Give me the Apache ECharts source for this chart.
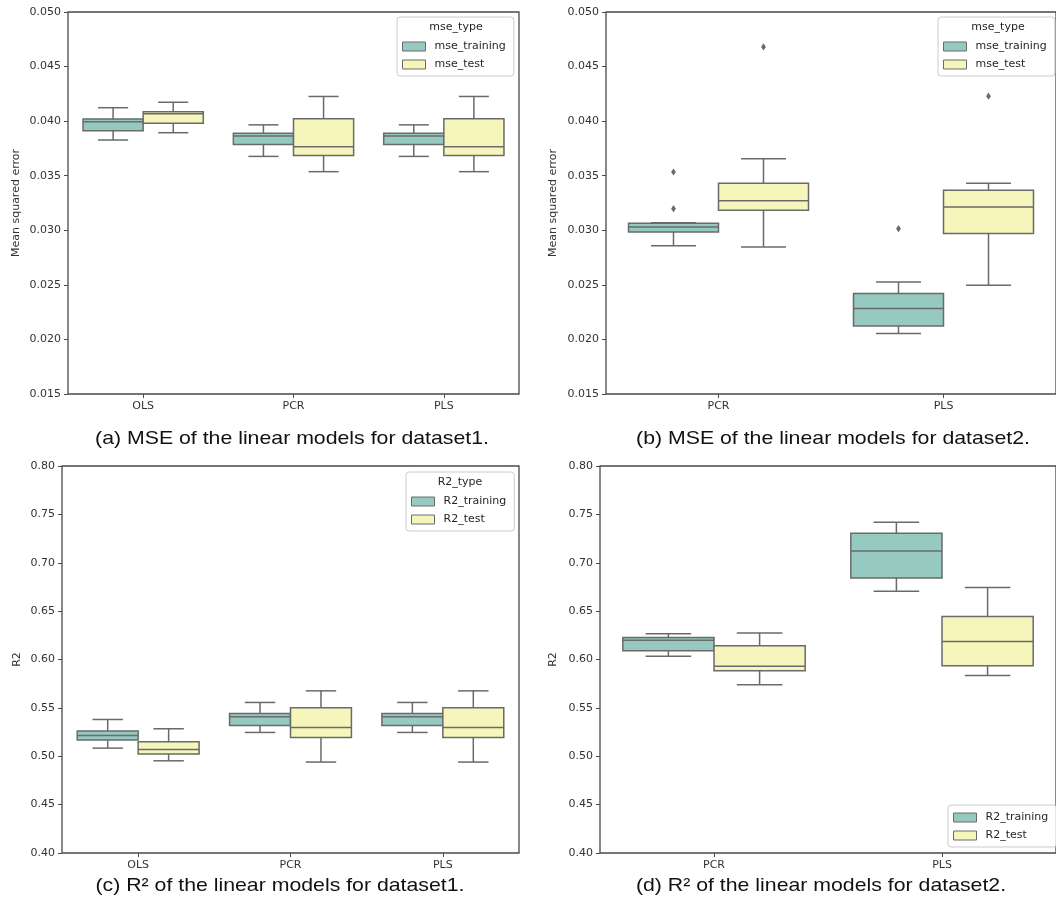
<!DOCTYPE html>
<html>
<head>
<meta charset="utf-8">
<title>MSE and R2 of the linear models</title>
<script src="https://cdn.jsdelivr.net/npm/echarts@6/dist/echarts.min.js"></script>
<style>
html, body { margin: 0; padding: 0; background: #fff; }
#main { width: 1056px; height: 909px; }
</style>
</head>
<body>
<div id="main"></div>
<script>
// box stats: [low whisker, q1, median, q3, high whisker]
var cats1 = ['OLS', 'PCR', 'PLS'];
var cats2 = ['PCR', 'PLS'];

var mse1Train = [[0.03827, 0.03912, 0.03995, 0.04020, 0.04123], [0.03677, 0.03787, 0.03863, 0.03890, 0.03966], [0.03677, 0.03787, 0.03863, 0.03890, 0.03966]];
var mse1Test = [[0.03894, 0.03980, 0.04068, 0.04087, 0.04173], [0.03537, 0.03686, 0.03765, 0.04021, 0.04226], [0.03537, 0.03686, 0.03765, 0.04021, 0.04226]];

var mse2Train = [[0.02859, 0.02984, 0.03030, 0.03065, 0.03068], [0.02055, 0.02122, 0.02284, 0.02421, 0.02527]];
var mse2Test = [[0.02848, 0.03183, 0.03271, 0.03430, 0.03655], [0.02497, 0.02970, 0.03213, 0.03366, 0.03430]];
var mse2TrainOut = [[0, 0.03534], [0, 0.03198], [1, 0.03015]];
var mse2TestOut = [[0, 0.04680], [1, 0.04229]];

var r21Train = [[0.5084, 0.5167, 0.5215, 0.5260, 0.5380], [0.5246, 0.5318, 0.5408, 0.5442, 0.5556], [0.5246, 0.5318, 0.5408, 0.5442, 0.5556]];
var r21Test = [[0.4953, 0.5022, 0.5071, 0.5150, 0.5284], [0.4940, 0.5194, 0.5298, 0.5501, 0.5676], [0.4940, 0.5194, 0.5298, 0.5501, 0.5676]];

var r22Train = [[0.6034, 0.6090, 0.6200, 0.6227, 0.6265], [0.6706, 0.6843, 0.7122, 0.7305, 0.7418]];
var r22Test = [[0.5738, 0.5883, 0.5931, 0.6141, 0.6275], [0.5835, 0.5935, 0.6186, 0.6444, 0.6744]];

var TEAL = '#96cac1', YELLOW = '#f6f6bc', GRAY = '#6a6a6a';
var FONT = 'DejaVu Sans';

var panels = [
  { grid: { left: 68, top: 12, width: 451, height: 382 }, cats: cats1, min: 0.015, max: 0.05, step: 0.005, dec: 3,
    yName: 'Mean squared error', gap: 46, names: ['mse_training', 'mse_test'],
    train: mse1Train, test: mse1Test, trainOut: [], testOut: [],
    legend: { left: 397, top: 17, title: 'mse_type', titleX: 456 } },
  { grid: { left: 606, top: 12, width: 458, height: 382 }, cats: cats2, min: 0.015, max: 0.05, step: 0.005, dec: 3,
    yName: 'Mean squared error', gap: 47, names: ['mse_training', 'mse_test'],
    train: mse2Train, test: mse2Test, trainOut: mse2TrainOut, testOut: mse2TestOut,
    legend: { left: 938, top: 17, title: 'mse_type', titleX: 998 } },
  { grid: { left: 62, top: 466, width: 457, height: 387 }, cats: cats1, min: 0.4, max: 0.8, step: 0.05, dec: 2,
    yName: 'R2', gap: 39, names: ['R2_training', 'R2_test'],
    train: r21Train, test: r21Test, trainOut: [], testOut: [],
    legend: { left: 406, top: 472, title: 'R2_type', titleX: 460 } },
  { grid: { left: 600, top: 466, width: 464, height: 387 }, cats: cats2, min: 0.4, max: 0.8, step: 0.05, dec: 2,
    yName: 'R2', gap: 41, names: ['R2_training', 'R2_test'],
    train: r22Train, test: r22Test, trainOut: [], testOut: [],
    legend: { left: 948, top: 805, title: null } }
];

var captions = [
  { text: '(a) MSE of the linear models for dataset1.', x: 292, y: 439 },
  { text: '(b) MSE of the linear models for dataset2.', x: 833, y: 439 },
  { text: '(c) R\u00b2 of the linear models for dataset1.', x: 280, y: 886 },
  { text: '(d) R\u00b2 of the linear models for dataset2.', x: 821, y: 886 }
];

function boxRenderer(side, fill) {
  return function (params, api) {
    var c = api.value(0);
    var band = api.size([1, 0])[0];
    var cx = api.coord([c, 0])[0] + side * band * 0.2;
    var half = band * 0.2;
    var cap = half / 2;
    var py = function (d) { return api.coord([c, api.value(d)])[1]; };
    var lo = py(1), q1 = py(2), md = py(3), q3 = py(4), hi = py(5);
    var ls = { stroke: GRAY, lineWidth: 1.5 };
    return {
      type: 'group',
      children: [
        { type: 'line', shape: { x1: cx, y1: q3, x2: cx, y2: hi }, style: ls },
        { type: 'line', shape: { x1: cx, y1: q1, x2: cx, y2: lo }, style: ls },
        { type: 'line', shape: { x1: cx - cap, y1: hi, x2: cx + cap, y2: hi }, style: ls },
        { type: 'line', shape: { x1: cx - cap, y1: lo, x2: cx + cap, y2: lo }, style: ls },
        { type: 'rect', shape: { x: cx - half, y: q3, width: 2 * half, height: q1 - q3 },
          style: { fill: fill, stroke: GRAY, lineWidth: 1.5 } },
        { type: 'line', shape: { x1: cx - half, y1: md, x2: cx + half, y2: md }, style: ls }
      ]
    };
  };
}

function flierRenderer(side) {
  return function (params, api) {
    var c = api.value(0);
    var band = api.size([1, 0])[0];
    var p = api.coord([c, api.value(1)]);
    var x = p[0] + side * band * 0.2, y = p[1];
    return {
      type: 'polygon',
      shape: { points: [[x, y - 3.6], [x + 2.4, y], [x, y + 3.6], [x - 2.4, y]] },
      style: { fill: GRAY }
    };
  };
}

var grids = [], xAxes = [], yAxes = [], series = [], legends = [], graphics = [];

panels.forEach(function (p, i) {
  grids.push({ left: p.grid.left, top: p.grid.top, width: p.grid.width, height: p.grid.height,
    show: true, borderColor: '#4a4a4a', borderWidth: 1.3, backgroundColor: 'transparent' });
  xAxes.push({
    type: 'category', gridIndex: i, data: p.cats, boundaryGap: true,
    axisLine: { show: false },
    axisTick: { show: true, alignWithLabel: true, length: 4, lineStyle: { color: '#4a4a4a' } },
    axisLabel: { margin: 7, fontFamily: FONT, fontSize: 11, color: '#333' },
    splitLine: { show: false }
  });
  yAxes.push({
    type: 'value', gridIndex: i, min: p.min, max: p.max, interval: p.step,
    name: p.yName, nameLocation: 'middle', nameGap: p.gap,
    nameTextStyle: { fontFamily: FONT, fontSize: 11, color: '#333' },
    axisLine: { show: false },
    axisTick: { show: true, length: 4, lineStyle: { color: '#4a4a4a' } },
    axisLabel: { margin: 7, fontFamily: FONT, fontSize: 11, color: '#333',
      formatter: (function (d) { return function (v) { return v.toFixed(d); }; })(p.dec) },
    splitLine: { show: false }
  });

  series.push({
    type: 'custom', name: p.names[0], xAxisIndex: i, yAxisIndex: i,
    itemStyle: { color: TEAL },
    renderItem: boxRenderer(-1, TEAL),
    encode: { x: 0, y: [1, 2, 3, 4, 5] },
    data: p.train.map(function (s, k) { return [k].concat(s); })
  });
  series.push({
    type: 'custom', name: p.names[1], xAxisIndex: i, yAxisIndex: i,
    itemStyle: { color: YELLOW },
    renderItem: boxRenderer(1, YELLOW),
    encode: { x: 0, y: [1, 2, 3, 4, 5] },
    data: p.test.map(function (s, k) { return [k].concat(s); })
  });
  if (p.trainOut.length) {
    series.push({ type: 'custom', name: 'fliers', xAxisIndex: i, yAxisIndex: i,
      renderItem: flierRenderer(-1), encode: { x: 0, y: 1 }, data: p.trainOut });
  }
  if (p.testOut.length) {
    series.push({ type: 'custom', name: 'fliers', xAxisIndex: i, yAxisIndex: i,
      renderItem: flierRenderer(1), encode: { x: 0, y: 1 }, data: p.testOut });
  }

  legends.push({
    orient: 'vertical', left: p.legend.left, top: p.legend.top,
    data: p.names, icon: 'rect', itemWidth: 23, itemHeight: 9, itemGap: 7,
    padding: p.legend.title ? [24, 8, 6, 5] : [7, 8, 6, 5],
    backgroundColor: 'rgba(255,255,255,0.85)', borderColor: '#cccccc', borderWidth: 1, borderRadius: 3,
    itemStyle: { borderColor: GRAY, borderWidth: 1 },
    textStyle: { fontFamily: FONT, fontSize: 11, color: '#262626', padding: [0, 0, 0, 4] },
    selectedMode: false
  });
  if (p.legend.title) {
    graphics.push({ type: 'text', x: p.legend.titleX, y: p.legend.top + 10, z: 100,
      style: { text: p.legend.title, fontFamily: FONT, fontSize: 11, fill: '#262626',
        textAlign: 'center', textVerticalAlign: 'middle', align: 'center', verticalAlign: 'middle' } });
  }
});

captions.forEach(function (c) {
  graphics.push({ type: 'text', x: c.x, y: c.y, scaleX: 1.12,
    style: { text: c.text, fontFamily: 'Liberation Sans', fontSize: 19, fill: '#111',
      textAlign: 'center', textVerticalAlign: 'middle', align: 'center', verticalAlign: 'middle' } });
});

var dom = document.getElementById('main');
var myChart = echarts.init(dom);
var option = {
  backgroundColor: '#fff',
  animation: false,
  grid: grids,
  xAxis: xAxes,
  yAxis: yAxes,
  legend: legends,
  graphic: graphics,
  series: series
};
myChart.setOption(option, true);
</script>
</body>
</html>
